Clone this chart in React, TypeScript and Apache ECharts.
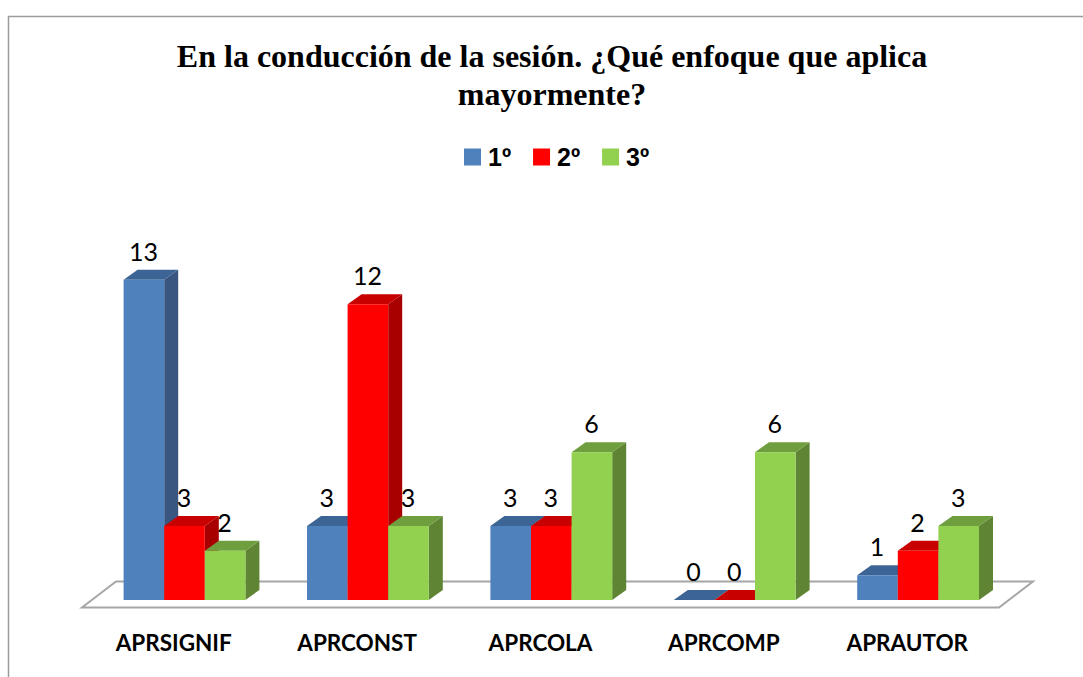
import React, { useEffect, useRef } from "react";
import * as echarts from "echarts";

const titleText = "En la conducción de la sesión. ¿Qué enfoque que aplica\nmayormente?";
const categories = ["APRSIGNIF", "APRCONST", "APRCOLA", "APRCOMP", "APRAUTOR"];
const primero = [13, 3, 3, 0, 1];
const segundo = [3, 12, 3, 0, 2];
const tercero = [2, 3, 6, 6, 3];
const seriesNames = ["1º", "2º", "3º"];

const palettes = [
  { front: "#4f81bd", top: "#3c6494", side: "#385680" },
  { front: "#ff0000", top: "#c80000", side: "#a80000" },
  { front: "#92d050", top: "#6f9e3f", side: "#5f8433" },
];

const BAR_W = 40.6;
const DX = 14;
const DY = 10;
const SHIFT = 10.8;
const LABEL_FONT = "Lato";

function barRender(seriesIdx: number) {
  const pal = palettes[seriesIdx];
  return (_params: any, api: any) => {
    const idx = api.value(0);
    const val = api.value(1);
    const [cx, yTop] = api.coord([idx, val]);
    const [, yBase] = api.coord([idx, 0]);
    const x0 = cx + SHIFT - (BAR_W * 3) / 2 + seriesIdx * BAR_W;
    const x1 = x0 + BAR_W;
    const children: any[] = [
      {
        type: "polygon",
        shape: { points: [[x1, yTop], [x1 + DX, yTop - DY], [x1 + DX, yBase - DY], [x1, yBase]] },
        style: { fill: pal.side },
      },
      {
        type: "polygon",
        shape: { points: [[x0, yTop], [x0 + DX, yTop - DY], [x1 + DX, yTop - DY], [x1, yTop]] },
        style: { fill: pal.top },
      },
    ];
    if (val > 0) {
      children.push({
        type: "rect",
        shape: { x: x0, y: yTop, width: BAR_W, height: yBase - yTop },
        style: { fill: pal.front },
      });
    }
    children.push({
      type: "text",
      style: {
        text: String(val),
        x: x0 + BAR_W / 2 - 0.5,
        y: yTop - 29,
        align: "center",
        verticalAlign: "middle",
        fontFamily: LABEL_FONT,
        fontSize: 25,
        fill: "#000000",
      },
    });
    return { type: "group", children };
  };
}

function floorRender(params: any) {
  const cs = params.coordSys;
  const yFront = cs.y + cs.height + 7.5;
  const yBack = cs.y + cs.height - 18.5;
  const xL = cs.x;
  const xR = cs.x + cs.width;
  return {
    type: "polygon",
    shape: { points: [[xL, yFront], [xL + 34, yBack], [xR + 34, yBack], [xR, yFront]] },
    style: { fill: "#ffffff", stroke: "#a6a6a6", lineWidth: 2 },
  };
}

export default function App() {
  const ref = useRef<HTMLDivElement>(null);
  useEffect(() => {
    document.body.style.margin = "0";
    const chart = echarts.init(ref.current!, undefined, { renderer: "svg" });
    const values = [primero, segundo, tercero];
    chart.setOption({
      animation: false,
      backgroundColor: "#ffffff",
      title: {
        text: titleText,
        left: 547,
        top: 32,
        textAlign: "center",
        textStyle: {
          fontFamily: "Liberation Serif",
          fontWeight: "bold",
          fontSize: 32,
          lineHeight: 38,
          color: "#000000",
        },
      },
      legend: {
        data: seriesNames,
        left: 464,
        top: 144.5,
        padding: 0,
        icon: "rect",
        itemWidth: 17,
        itemHeight: 17,
        itemGap: 22,
        textStyle: {
          fontFamily: "Liberation Sans",
          fontWeight: "bold",
          fontSize: 25,
          lineHeight: 22,
          color: "#000000",
          padding: [0, 0, 0, 2],
        },
      },
      grid: { left: 82, top: 255, width: 917, height: 345 },
      xAxis: {
        type: "category",
        data: categories,
        axisLine: { show: false },
        axisTick: { show: false },
        axisLabel: {
          margin: 31,
          interval: 0,
          fontFamily: LABEL_FONT,
          fontWeight: "bold",
          fontSize: 22.5,
          color: "#000000",
        },
      },
      yAxis: { type: "value", min: 0, max: 14, show: false },
      graphic: [
        {
          type: "polyline",
          silent: true,
          shape: { points: [[8.5, 677], [8.5, 16.5], [1083, 16.5]] },
          style: { fill: "none", stroke: "#9c9c9c", lineWidth: 1.5 },
        },
      ],
      series: [
        {
          name: "floor",
          type: "custom",
          silent: true,
          clip: false,
          data: [[0, 0]],
          encode: { x: 0, y: 1 },
          renderItem: floorRender,
        },
        ...seriesNames.map((name, s) => ({
          name,
          type: "custom",
          clip: false,
          itemStyle: { color: palettes[s].front },
          data: values[s].map((v, i) => [i, v]),
          encode: { x: 0, y: 1 },
          renderItem: barRender(s),
        })),
      ],
    });
    return () => chart.dispose();
  }, []);
  return <div ref={ref} style={{ width: 1083, height: 677 }} />;
}
